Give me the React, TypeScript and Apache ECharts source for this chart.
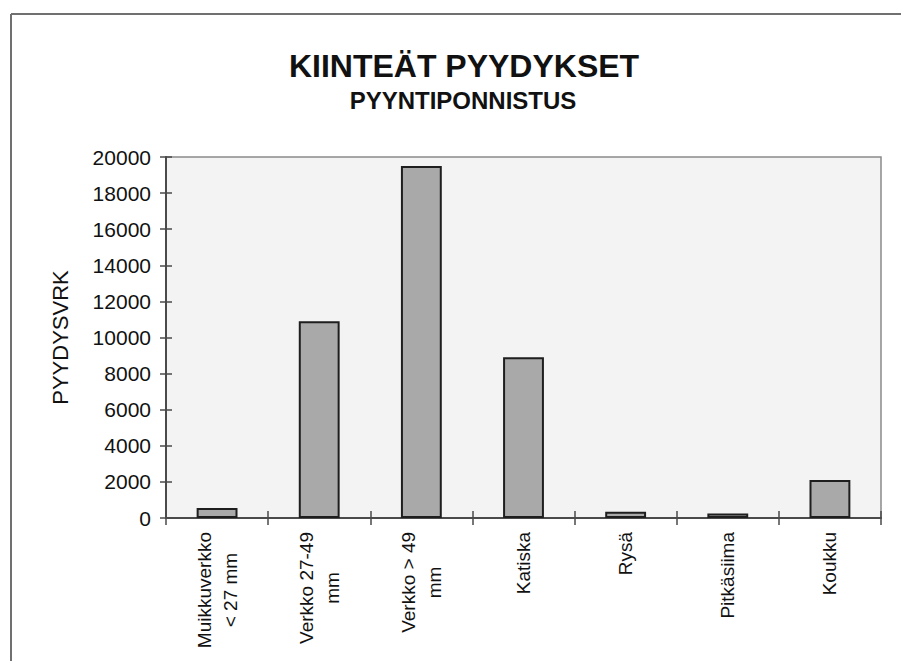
import React, { useEffect, useRef } from "react";
import * as echarts from "echarts";

const categories = [
  "Muikkuverkko\n< 27 mm",
  "Verkko 27-49\nmm",
  "Verkko > 49\nmm",
  "Katiska",
  "Rysä",
  "Pitkäsiima",
  "Koukku",
];
const values = [550, 10900, 19500, 8900, 350, 250, 2100];
const yMin = 0;
const yMax = 20000;
const yInterval = 2000;
const titleText = "KIINTEÄT PYYDYKSET";
const subtitleText = "PYYNTIPONNISTUS";
const yAxisName = "PYYDYSVRK";

const FONT = "'Liberation Sans', Arial, sans-serif";

export default function App() {
  const ref = useRef<HTMLDivElement>(null);
  useEffect(() => {
    document.body.style.margin = "0";
    const chart = echarts.init(ref.current!, null, { renderer: "svg" });
    const axisColor = "#4a4a4a";
    chart.setOption({
      animation: false,
      backgroundColor: "#ffffff",
      textStyle: { fontFamily: FONT },
      graphic: [
        {
          type: "line",
          shape: { x1: 11, y1: 14, x2: 901, y2: 14 },
          style: { stroke: "#707070", lineWidth: 2 },
        },
        {
          type: "line",
          shape: { x1: 11, y1: 14, x2: 11, y2: 661 },
          style: { stroke: "#707070", lineWidth: 2 },
        },
        {
          type: "text",
          x: 464,
          y: 66,
          style: {
            text: titleText,
            fontFamily: FONT,
            fontWeight: "bold",
            fontSize: 32,
            fill: "#111",
            align: "center",
            verticalAlign: "middle",
          },
        },
        {
          type: "text",
          x: 463,
          y: 100,
          style: {
            text: subtitleText,
            fontFamily: FONT,
            fontWeight: "bold",
            fontSize: 24,
            fill: "#111",
            align: "center",
            verticalAlign: "middle",
          },
        },
      ],
      grid: {
        left: 166,
        right: 20,
        top: 157,
        bottom: 143,
        show: true,
        backgroundColor: "#f3f3f3",
        borderColor: "#8a8a8a",
        borderWidth: 1.5,
      },
      xAxis: [
        {
          type: "category",
          data: categories,
          axisLine: { show: true, lineStyle: { color: axisColor, width: 2 } },
          axisTick: { show: true, inside: false, length: 7, lineStyle: { color: axisColor, width: 1.5 } },
          axisLabel: {
            rotate: 90,
            margin: 14,
            interval: 0,
            color: "#111",
            formatter: (v: string) =>
              v
                .split("\n")
                .map((s) => "{c|" + s + "}")
                .join("\n"),
            rich: {
              c: {
                fontFamily: FONT,
                fontSize: 19,
                lineHeight: 26,
                align: "center",
                color: "#111",
              },
            },
          },
        },
        {
          type: "category",
          data: categories,
          position: "bottom",
          axisLine: { show: false },
          axisTick: { show: true, inside: true, length: 7, lineStyle: { color: axisColor, width: 1.5 } },
          axisLabel: { show: false },
        },
      ],
      yAxis: [
        {
          type: "value",
          min: yMin,
          max: yMax,
          interval: yInterval,
          name: yAxisName,
          nameLocation: "middle",
          nameGap: 95,
          nameTextStyle: { fontFamily: FONT, fontSize: 22, color: "#111" },
          axisLine: { show: true, lineStyle: { color: axisColor, width: 2 } },
          axisTick: { show: true, inside: false, length: 6, lineStyle: { color: axisColor, width: 1.5 } },
          axisLabel: {
            margin: 15,
            fontFamily: FONT,
            fontSize: 21,
            color: "#111",
            formatter: (v: number) => String(v),
          },
          splitLine: { show: false },
        },
        {
          type: "value",
          min: yMin,
          max: yMax,
          interval: yInterval,
          position: "left",
          axisLine: { show: false },
          axisTick: { show: true, inside: true, length: 6, lineStyle: { color: axisColor, width: 1.5 } },
          axisLabel: { show: false },
          splitLine: { show: false },
        },
      ],
      series: [
        {
          type: "bar",
          data: values,
          xAxisIndex: 0,
          yAxisIndex: 0,
          barWidth: "40%",
          itemStyle: { color: "#a9a9a9", borderColor: "#1e1e1e", borderWidth: 2 },
        },
      ],
    });
    return () => chart.dispose();
  }, []);
  return <div ref={ref} style={{ width: 901, height: 661 }} />;
}
